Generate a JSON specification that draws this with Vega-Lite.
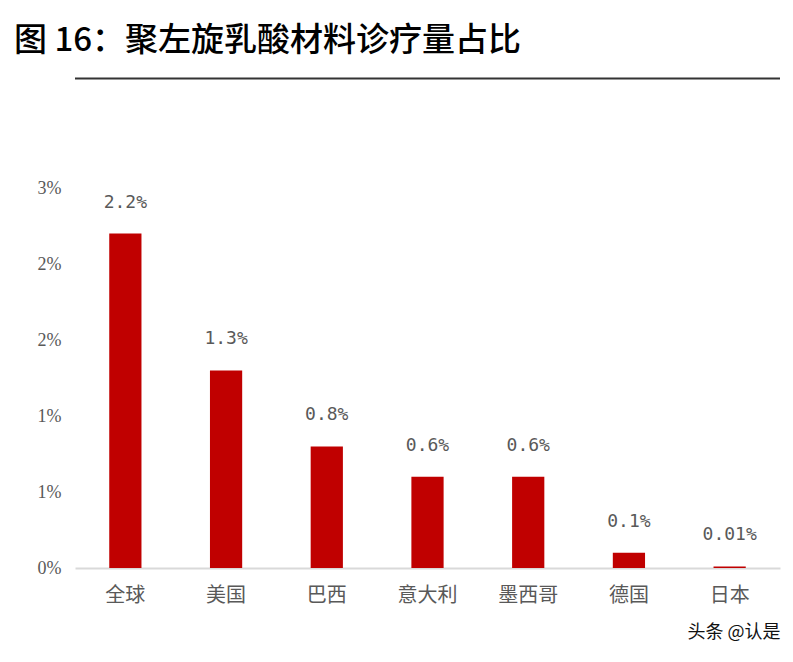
{
  "$schema": "https://vega.github.io/schema/vega-lite/v6.json",
  "width": 705,
  "height": 380,
  "autosize": {"type": "none"},
  "padding": {"left": 75, "top": 188, "right": 13, "bottom": 94},
  "background": "white",
  "config": {
    "view": {"stroke": null},
    "font": "Noto Sans CJK SC"
  },
  "title": {
    "text": "图 16：聚左旋乳酸材料诊疗量占比",
    "anchor": "start",
    "frame": "group",
    "dx": -61,
    "offset": 20,
    "fontSize": 33,
    "fontWeight": 500,
    "color": "#000000",
    "font": "Noto Sans CJK SC"
  },
  "data": {
    "values": [
      {"region": "全球", "share": 2.2, "label": "2.2%"},
      {"region": "美国", "share": 1.3, "label": "1.3%"},
      {"region": "巴西", "share": 0.8, "label": "0.8%"},
      {"region": "意大利", "share": 0.6, "label": "0.6%"},
      {"region": "墨西哥", "share": 0.6, "label": "0.6%"},
      {"region": "德国", "share": 0.1, "label": "0.1%"},
      {"region": "日本", "share": 0.01, "label": "0.01%"}
    ]
  },
  "encoding": {
    "x": {
      "field": "region",
      "type": "nominal",
      "sort": null,
      "scale": {"paddingInner": 0.68, "paddingOuter": 0.34},
      "axis": {
        "title": "头条 @认是",
        "titleAnchor": "end",
        "titleFontSize": 18,
        "titleFontWeight": "normal",
        "titleColor": "#111111",
        "titlePadding": 18,
        "labelAngle": 0,
        "labelFontSize": 20,
        "labelColor": "#595959",
        "labelPadding": 17,
        "ticks": false,
        "domainColor": "#d9d9d9",
        "domainWidth": 2
      }
    },
    "y": {
      "field": "share",
      "type": "quantitative",
      "scale": {"domain": [0, 2.5]},
      "axis": {
        "title": null,
        "values": [0, 0.5, 1, 1.5, 2, 2.5],
        "labelExpr": "round(datum.value) + '%'",
        "labelFontSize": 18,
        "labelColor": "#595959",
        "labelPadding": 14,
        "labelFont": "Liberation Serif",
        "ticks": false,
        "domain": false,
        "grid": false
      }
    }
  },
  "layer": [
    {
      "mark": {"type": "bar", "color": "#C00000"}
    },
    {
      "mark": {
        "type": "text",
        "dy": -31,
        "baseline": "middle",
        "fontSize": 18,
        "font": "DejaVu Sans Mono",
        "color": "#595959"
      },
      "encoding": {"text": {"field": "label"}}
    },
    {
      "data": {"values": [{"ypos": 3.22}]},
      "mark": {"type": "rule", "color": "#333333", "strokeWidth": 2},
      "encoding": {
        "x": null,
        "y": {"field": "ypos", "type": "quantitative"}
      }
    }
  ]
}
